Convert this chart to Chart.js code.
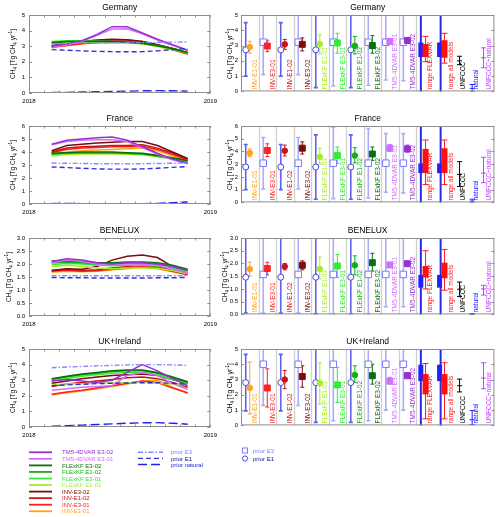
<!DOCTYPE html>
<html>
<head>
<meta charset="utf-8">
<script src="https://cdn.jsdelivr.net/npm/chart.js@4.4.1/dist/chart.umd.min.js"></script>
<style>
  body { margin: 0; background: #fff; }
  #page { position: relative; width: 500px; height: 517px; overflow: hidden; font-family: 'Liberation Sans', Arial, sans-serif; }
  canvas { position: absolute; }
  .ylab { position: absolute; width: 80px; height: 8px; line-height: 8px; font-size: 6.5px; text-align: center; transform: rotate(-90deg); white-space: nowrap; color: #000; }
  .ylab sub, .ylab sup { font-size: 4.5px; line-height: 0; }
  svg { position: absolute; left: 0; top: 0; }
</style>
</head>
<body>
<div id="page"></div>
<script>
// ---- data ----
const months = [1.5, 2.5, 3.5, 4.5, 5.5, 6.5, 7.5, 8.5, 9.5, 10.5];
const yearLabels = ['2018', '2019'];

const lineNames = ['TM5-4DVAR E3-02', 'TM5-4DVAR E3-01', 'FLExKF E3-02', 'FLExKF E1-02', 'FLExKF E3-01',
                   'FLExKF E1-01', 'INV-E3-02', 'INV-E1-02', 'INV-E3-01', 'INV-E1-01'];
const lineColors = ['#9830d0', '#d070ff', '#0a6e0a', '#12b012', '#30ee30',
                    '#a8ec28', '#7c0c0c', '#c81414', '#ff2020', '#ffa31a'];
const priorNames = ['prior E3', 'prior E1', 'prior natural'];
const priorColors = ['#8888ff', '#3030d8', '#2222ee'];

// monthly series, order as lineNames
const germanyMonthly = [
  [3.00, 3.15, 3.35, 3.75, 4.25, 4.25, 3.85, 3.45, 3.10, 2.75],
  [2.95, 3.10, 3.30, 3.70, 4.10, 4.12, 3.80, 3.40, 3.05, 2.72],
  [3.20, 3.30, 3.30, 3.30, 3.30, 3.25, 3.20, 3.05, 2.85, 2.60],
  [3.25, 3.30, 3.30, 3.30, 3.28, 3.25, 3.18, 3.02, 2.82, 2.58],
  [3.30, 3.35, 3.35, 3.32, 3.30, 3.25, 3.20, 3.05, 2.85, 2.62],
  [3.15, 3.25, 3.25, 3.25, 3.20, 3.20, 3.15, 3.00, 2.80, 2.55],
  [3.05, 3.20, 3.30, 3.40, 3.45, 3.42, 3.30, 3.10, 2.85, 2.55],
  [3.00, 3.15, 3.25, 3.35, 3.40, 3.40, 3.30, 3.10, 2.85, 2.55],
  [2.95, 3.05, 3.15, 3.25, 3.30, 3.30, 3.20, 3.05, 2.80, 2.50],
  [2.90, 3.05, 3.15, 3.20, 3.25, 3.25, 3.15, 3.00, 2.75, 2.48]
];
const germanyPriorMonthly = [
  [3.15, 3.18, 3.20, 3.20, 3.22, 3.22, 3.24, 3.25, 3.26, 3.27],
  [2.78, 2.74, 2.70, 2.67, 2.65, 2.64, 2.65, 2.70, 2.78, 2.86],
  [0.03, 0.04, 0.06, 0.08, 0.10, 0.12, 0.14, 0.15, 0.14, 0.12]
];
const franceMonthly = [
  [4.60, 4.90, 5.00, 5.10, 5.15, 4.90, 4.40, 3.90, 3.45, 3.15],
  [4.55, 4.80, 4.90, 4.95, 4.95, 4.80, 4.35, 3.85, 3.40, 3.10],
  [3.90, 3.95, 4.00, 4.00, 4.00, 3.95, 3.90, 3.75, 3.55, 3.35],
  [3.85, 3.95, 3.95, 3.95, 3.95, 3.90, 3.85, 3.70, 3.50, 3.30],
  [3.80, 3.90, 3.90, 3.90, 3.90, 3.88, 3.82, 3.68, 3.48, 3.30],
  [3.70, 3.80, 3.85, 3.85, 3.85, 3.82, 3.78, 3.65, 3.45, 3.25],
  [4.10, 4.50, 4.60, 4.70, 4.75, 4.80, 4.80, 4.50, 4.00, 3.50],
  [4.00, 4.30, 4.40, 4.45, 4.50, 4.50, 4.55, 4.30, 3.90, 3.45],
  [3.95, 4.20, 4.30, 4.35, 4.40, 4.40, 4.45, 4.20, 3.80, 3.40],
  [3.80, 4.00, 4.10, 4.15, 4.20, 4.25, 4.30, 4.10, 3.70, 3.35]
];
const francePriorMonthly = [
  [3.15, 3.13, 3.12, 3.10, 3.10, 3.10, 3.10, 3.12, 3.14, 3.16],
  [2.85, 2.80, 2.75, 2.70, 2.68, 2.68, 2.70, 2.75, 2.82, 2.88],
  [0.05, 0.04, 0.03, 0.02, 0.02, 0.02, 0.03, 0.05, 0.10, 0.15]
];
const beneluxMonthly = [
  [2.10, 2.20, 2.15, 2.05, 2.00, 2.05, 2.05, 2.00, 1.90, 1.75],
  [2.05, 2.15, 2.10, 2.00, 1.95, 2.00, 2.00, 1.95, 1.80, 1.65],
  [2.12, 2.12, 2.10, 2.05, 2.05, 2.08, 2.08, 2.05, 1.95, 1.80],
  [2.05, 2.08, 2.05, 2.00, 2.00, 2.02, 2.03, 2.00, 1.90, 1.75],
  [1.98, 2.02, 2.00, 1.95, 1.93, 1.95, 1.95, 1.92, 1.85, 1.70],
  [1.90, 1.95, 1.90, 1.85, 1.82, 1.85, 1.85, 1.83, 1.75, 1.62],
  [1.75, 1.82, 1.80, 1.90, 2.15, 2.30, 2.35, 2.25, 1.90, 1.65],
  [1.75, 1.80, 1.75, 1.78, 1.85, 1.90, 1.95, 1.90, 1.75, 1.60],
  [1.72, 1.76, 1.72, 1.74, 1.80, 1.85, 1.90, 1.85, 1.72, 1.60],
  [1.68, 1.72, 1.70, 1.72, 1.78, 1.82, 1.88, 1.82, 1.70, 1.58]
];
const beneluxPriorMonthly = [
  [1.55, 1.55, 1.55, 1.55, 1.55, 1.55, 1.55, 1.55, 1.55, 1.55],
  [1.48, 1.47, 1.47, 1.46, 1.46, 1.46, 1.46, 1.47, 1.47, 1.48],
  [0.01, 0.01, 0.01, 0.01, 0.01, 0.01, 0.01, 0.01, 0.01, 0.01]
];
const ukMonthly = [
  [2.95, 3.05, 2.95, 2.85, 3.00, 3.50, 4.00, 3.60, 3.10, 2.65],
  [2.35, 2.45, 2.55, 2.60, 2.65, 3.30, 3.50, 3.30, 2.80, 2.40],
  [3.10, 3.25, 3.40, 3.50, 3.60, 3.65, 3.65, 3.50, 3.20, 2.90],
  [3.05, 3.20, 3.35, 3.45, 3.55, 3.60, 3.60, 3.45, 3.15, 2.85],
  [2.95, 3.10, 3.25, 3.35, 3.45, 3.50, 3.50, 3.35, 3.05, 2.80],
  [2.70, 2.75, 2.78, 2.80, 2.82, 2.85, 2.85, 2.80, 2.75, 2.70],
  [2.80, 2.95, 3.10, 3.20, 3.30, 3.35, 3.40, 3.30, 3.05, 2.80],
  [2.60, 2.75, 2.85, 2.95, 3.05, 3.15, 3.20, 3.10, 2.85, 2.55],
  [2.10, 2.25, 2.35, 2.50, 2.65, 2.80, 2.95, 2.85, 2.50, 2.20],
  [2.05, 2.20, 2.30, 2.45, 2.60, 2.75, 2.95, 3.00, 2.55, 2.15]
];
const ukPriorMonthly = [
  [3.80, 3.85, 3.88, 3.92, 3.95, 3.98, 4.00, 4.00, 3.98, 3.95],
  [2.65, 2.70, 2.74, 2.78, 2.80, 2.82, 2.84, 2.84, 2.80, 2.75],
  [0.05, 0.08, 0.12, 0.16, 0.20, 0.24, 0.27, 0.28, 0.24, 0.18]
];

// annual means per model run (right panels)
const slotNames = ['INV-E1-01', 'INV-E3-01', 'INV-E1-02', 'INV-E3-02', 'FLExKF E1-01', 'FLExKF E3-01',
                   'FLExKF E1-02', 'FLExKF E3-02', 'TM5-4DVAR E3-01', 'TM5-4DVAR E3-02'];
const slotPriorType = ['E1', 'E3', 'E1', 'E3', 'E1', 'E3', 'E1', 'E3', 'E3', 'E3'];
const inventoryNames = ['UNFCCC', 'natural', 'UNFCCC+natural'];

const germanyPrior = [2.72, 3.22]; // E1, E3
const germanyPriorLo = [1.0, 1.1, 1.0, 1.1, 0.25, 0.35, 0.25, 0.4, 0.75, 0.7];
const germanyPriorHi = [4.5, 5.3, 4.5, 5.3, 5.3, 6.1, 5.3, 6.0, 5.7, 5.8];
const germanyPost = [2.90, 2.97, 3.08, 3.08, 3.10, 3.17, 2.98, 3.00, 3.27, 3.33];
const germanyPostLo = [2.50, 2.60, 2.75, 2.65, 2.45, 2.50, 2.45, 2.50, 3.15, 3.20];
const germanyPostHi = [3.28, 3.35, 3.40, 3.50, 3.70, 3.80, 3.60, 3.65, 3.45, 3.50];
const germanyRangePrior = [[2.25, 3.20], [2.25, 3.20]]; // FLEXVAR, all models
const germanyRangePost = [[2.25, 3.10], [2.20, 3.35]];
const germanyRangeWhisker = [[1.95, 3.60], [1.85, 3.80]];
const germanyInventory = [[1.75, 2.00, 2.30], [0.00, 0.20, 0.45], [1.55, 2.20, 2.85]];

const francePrior = [2.78, 3.08];
const francePriorLo = [1.0, 1.05, 1.0, 1.05, 0.25, 0.3, 0.25, 0.35, 0.8, 0.75];
const francePriorHi = [4.55, 5.1, 4.55, 5.1, 5.3, 5.9, 5.3, 5.8, 5.4, 5.4];
const francePost = [3.88, 4.08, 4.06, 4.26, 3.58, 3.68, 3.68, 3.80, 4.26, 4.20];
const francePostLo = [3.60, 3.60, 3.65, 3.80, 3.00, 3.05, 3.10, 3.30, 4.00, 3.95];
const francePostHi = [4.20, 4.60, 4.50, 4.75, 4.25, 4.35, 4.30, 4.35, 4.55, 4.50];
const franceRangePrior = [[2.30, 3.06], [2.30, 3.06]];
const franceRangePost = [[2.30, 4.20], [2.30, 4.25]];
const franceRangeWhisker = [[1.40, 4.90], [1.40, 4.90]];
const franceInventory = [[1.25, 2.20, 3.20], [0.00, 0.10, 0.25], [1.55, 2.30, 3.55]];

const beneluxPrior = [1.46, 1.57];
const beneluxPriorLo = [0.05, 0.05, 0.05, 0.05, 0.02, 0.02, 0.02, 0.02, 0.3, 0.3];
const beneluxPriorHi = [3.2, 3.2, 3.2, 3.2, 3.2, 3.2, 3.2, 3.2, 3.2, 3.2];
const beneluxPost = [1.78, 1.80, 1.88, 1.93, 1.78, 1.90, 1.93, 2.03, 1.94, 1.99];
const beneluxPostLo = [1.50, 1.55, 1.75, 1.75, 1.40, 1.45, 1.55, 1.70, 1.85, 1.90];
const beneluxPostHi = [2.05, 2.05, 2.00, 2.10, 2.25, 2.35, 2.30, 2.40, 2.05, 2.10];
const beneluxRangePrior = [[1.05, 1.55], [1.05, 1.55]];
const beneluxRangePost = [[1.45, 1.90], [1.42, 2.03]];
const beneluxRangeWhisker = [[1.00, 2.50], [0.95, 2.55]];
const beneluxInventory = [[0.70, 0.99, 1.27], [0.00, 0.01, 0.03], [0.76, 1.00, 1.14]];

const ukPrior = [2.80, 4.00];
const ukPriorLo = [0.95, 1.3, 0.95, 1.3, 0.2, 0.3, 0.2, 0.3, 1.0, 1.0];
const ukPriorHi = [4.65, 6.7, 4.65, 6.7, 5.4, 7.7, 5.4, 7.7, 7.0, 7.0];
const ukPost = [2.45, 2.45, 3.00, 3.20, 2.76, 2.65, 3.30, 3.25, 2.90, 3.25];
const ukPostLo = [0.75, 1.20, 2.40, 2.50, 1.40, 1.50, 2.80, 2.70, 2.70, 3.10];
const ukPostHi = [4.15, 3.70, 3.60, 3.90, 4.10, 3.80, 3.90, 4.00, 3.15, 3.45];
const ukRangePrior = [[2.90, 3.97], [2.90, 3.97]];
const ukRangePost = [[2.03, 3.36], [2.03, 3.36]];
const ukRangeWhisker = [[0.43, 4.05], [0.43, 4.10]];
const ukInventory = [[2.19, 2.60, 3.03], [0.05, 0.37, 0.97], [2.40, 3.10, 4.10]];

const regions = [
  { title: 'Germany', ymax: 5, step: 1, monthly: germanyMonthly, priorMonthly: germanyPriorMonthly,
    prior: germanyPrior, priorLo: germanyPriorLo, priorHi: germanyPriorHi, post: germanyPost,
    postLo: germanyPostLo, postHi: germanyPostHi, rangePrior: germanyRangePrior,
    rangePost: germanyRangePost, rangeWhisker: germanyRangeWhisker, inventory: germanyInventory },
  { title: 'France', ymax: 6, step: 1, monthly: franceMonthly, priorMonthly: francePriorMonthly,
    prior: francePrior, priorLo: francePriorLo, priorHi: francePriorHi, post: francePost,
    postLo: francePostLo, postHi: francePostHi, rangePrior: franceRangePrior,
    rangePost: franceRangePost, rangeWhisker: franceRangeWhisker, inventory: franceInventory },
  { title: 'BENELUX', ymax: 3, step: 0.5, monthly: beneluxMonthly, priorMonthly: beneluxPriorMonthly,
    prior: beneluxPrior, priorLo: beneluxPriorLo, priorHi: beneluxPriorHi, post: beneluxPost,
    postLo: beneluxPostLo, postHi: beneluxPostHi, rangePrior: beneluxRangePrior,
    rangePost: beneluxRangePost, rangeWhisker: beneluxRangeWhisker, inventory: beneluxInventory },
  { title: 'UK+Ireland', ymax: 5, step: 1, monthly: ukMonthly, priorMonthly: ukPriorMonthly,
    prior: ukPrior, priorLo: ukPriorLo, priorHi: ukPriorHi, post: ukPost,
    postLo: ukPostLo, postHi: ukPostHi, rangePrior: ukRangePrior,
    rangePost: ukRangePost, rangeWhisker: ukRangeWhisker, inventory: ukInventory }
];

// ---- layout ----
const FONT = '"Liberation Sans", Arial, sans-serif';
const plotTops = [15, 126, 238, 349];
const plotH = 78;
const page = document.getElementById('page');
const slotColors = slotNames.map(n => lineColors[lineNames.indexOf(n)]);

function makeCanvas(left, top, w, h) {
  const c = document.createElement('canvas');
  c.width = w; c.height = h;
  c.style.left = left + 'px'; c.style.top = top + 'px';
  c.style.width = w + 'px'; c.style.height = h + 'px';
  page.appendChild(c);
  return c;
}

function addYLabel(cx, cy) {
  const d = document.createElement('div');
  d.className = 'ylab';
  d.innerHTML = 'CH<sub>4</sub> [Tg CH<sub>4</sub> yr<sup>-1</sup>]';
  d.style.left = (cx - 40) + 'px';
  d.style.top = (cy - 4) + 'px';
  page.appendChild(d);
}

// frame, inward ticks and panel title
const framePlugin = {
  id: 'frame',
  afterDraw(chart, args, opts) {
    const { ctx, chartArea: a, scales } = chart;
    ctx.save();
    ctx.strokeStyle = '#8e8e8e';
    ctx.lineWidth = 1;
    ctx.strokeRect(a.left + 0.5, a.top + 0.5, a.right - a.left - 1, a.bottom - a.top - 1);
    ctx.beginPath();
    scales.y.ticks.forEach(t => {
      const py = Math.round(scales.y.getPixelForValue(t.value)) + 0.5;
      ctx.moveTo(a.left, py); ctx.lineTo(a.left + 3, py);
      ctx.moveTo(a.right, py); ctx.lineTo(a.right - 3, py);
    });
    if (opts.xTicks) {
      scales.x.ticks.forEach(t => {
        const px = Math.round(scales.x.getPixelForValue(t.value)) + 0.5;
        ctx.moveTo(px, a.bottom); ctx.lineTo(px, a.bottom - 2.5);
        ctx.moveTo(px, a.top); ctx.lineTo(px, a.top + 2.5);
      });
    }
    ctx.stroke();
    ctx.fillStyle = '#000';
    ctx.font = '8.5px ' + FONT;
    ctx.textAlign = 'center';
    ctx.textBaseline = 'middle';
    ctx.fillText(opts.title, (a.left + a.right) / 2, a.top - 7);
    ctx.restore();
  }
};

function vbar(ctx, px, p1, p2, cap) {
  ctx.beginPath();
  ctx.moveTo(px, p1); ctx.lineTo(px, p2);
  if (cap) {
    ctx.moveTo(px - cap, p1); ctx.lineTo(px + cap, p1);
    ctx.moveTo(px - cap, p2); ctx.lineTo(px + cap, p2);
  }
  ctx.stroke();
}

// error bars, range boxes and column labels of the right panels
const slotPlugin = {
  id: 'slots',
  beforeDatasetsDraw(chart, args, opts) {
    const r = regions[opts.ri];
    const { ctx, chartArea: a, scales: { x, y } } = chart;
    const X = v => x.getPixelForValue(v);
    const Y = v => y.getPixelForValue(v);
    ctx.save();
    ctx.beginPath();
    ctx.rect(a.left, a.top, a.right - a.left, a.bottom - a.top);
    ctx.clip();

    ctx.strokeStyle = '#d0d0d0';
    ctx.lineWidth = 1.3;
    for (let k = 1; k <= slotNames.length; k++) {
      const px = Math.round(X(k)) + 0.5;
      ctx.beginPath(); ctx.moveTo(px, a.top); ctx.lineTo(px, a.bottom); ctx.stroke();
    }

    // rotated labels
    ctx.font = '6.5px ' + FONT;
    ctx.textAlign = 'left';
    ctx.textBaseline = 'middle';
    const label = (text, xv, color) => {
      ctx.save();
      ctx.translate(X(xv), a.bottom - 2);
      ctx.rotate(-Math.PI / 2);
      ctx.fillStyle = color;
      ctx.fillText(text, 0, 0);
      ctx.restore();
    };
    slotNames.forEach((n, k) => label(n, k + 0.83, slotColors[k]));
    label('range FLEXVAR', 10.83, '#ff1a1a');
    label('range all models', 12.0, '#ff1a1a');
    label(inventoryNames[0], 12.69, '#000000');
    label(inventoryNames[1], 13.43, '#2020ff');
    label(inventoryNames[2], 14.19, '#c040ff');

    // prior uncertainty
    ctx.lineWidth = 1.6;
    slotNames.forEach((n, k) => {
      ctx.strokeStyle = slotPriorType[k] === 'E3' ? '#aaaaff' : '#6060f0';
      vbar(ctx, X(k + 0.27), Y(r.priorLo[k]), Y(r.priorHi[k]), 2);
    });
    // posterior uncertainty
    ctx.lineWidth = 1;
    slotNames.forEach((n, k) => {
      ctx.strokeStyle = slotColors[k];
      vbar(ctx, X(k + 0.5), Y(r.postLo[k]), Y(r.postHi[k]), 2);
    });

    // range columns
    const cols = [{ line: 10.27, box: 10.27, red: 10.54 }, { line: 11.4, box: 11.34, red: 11.62 }];
    cols.forEach((c, i) => {
      ctx.strokeStyle = '#2a2ae8';
      ctx.lineWidth = 2;
      vbar(ctx, X(c.line), a.bottom + 2, a.top - 2, 0);
      ctx.fillStyle = '#2020ff';
      ctx.fillRect(X(c.box) - 2.5, Y(r.rangePrior[i][1]), 5, Y(r.rangePrior[i][0]) - Y(r.rangePrior[i][1]));
      ctx.strokeStyle = '#ff1a1a';
      ctx.lineWidth = 1;
      vbar(ctx, X(c.red), Y(r.rangeWhisker[i][0]), Y(r.rangeWhisker[i][1]), 3);
      ctx.fillStyle = '#ff1010';
      ctx.fillRect(X(c.red) - 3, Y(r.rangePost[i][1]), 6, Y(r.rangePost[i][0]) - Y(r.rangePost[i][1]));
    });

    // inventories
    const inv = [{ xv: 12.48, color: '#000000' }, { xv: 13.2, color: '#2020ff' }, { xv: 13.85, color: '#c040ff' }];
    inv.forEach((c, i) => {
      const [lo, mid, hi] = r.inventory[i];
      ctx.strokeStyle = c.color;
      ctx.lineWidth = 1;
      vbar(ctx, X(c.xv), Y(lo), Y(hi), 2.5);
      ctx.beginPath();
      ctx.moveTo(X(c.xv) - 2.5, Y(mid)); ctx.lineTo(X(c.xv) + 2.5, Y(mid));
      ctx.stroke();
    });
    ctx.restore();
  }
};

function yTicks(r) {
  return {
    font: { size: 6, family: FONT }, color: '#000', padding: 3,
    stepSize: r.step,
    callback: v => (r.step < 1 ? v.toFixed(1) : String(v))
  };
}

regions.forEach((r, ri) => {
  const top = plotTops[ri];

  // ---- left: monthly time series ----
  const datasets = [];
  r.priorMonthly.forEach((vals, i) => {
    datasets.push({
      label: priorNames[i],
      data: months.map((m, j) => ({ x: m, y: vals[j] })),
      borderColor: priorColors[i], borderWidth: 1.4,
      borderDash: [[5, 2, 1.5, 2], [5, 3], [9, 4]][i],
      pointRadius: 0, order: i
    });
  });
  r.monthly.forEach((vals, i) => {
    datasets.push({
      label: lineNames[i],
      data: months.map((m, j) => ({ x: m, y: vals[j] })),
      borderColor: lineColors[i], borderWidth: 1.5,
      pointRadius: 0, order: 3 + i
    });
  });

  new Chart(makeCanvas(0, top - 12, 222, 104), {
    type: 'line',
    data: { datasets },
    options: {
      responsive: false, animation: false, events: [],
      layout: { padding: { top: 12, right: 11, bottom: 0, left: 0 } },
      scales: {
        x: {
          type: 'linear', min: 0, max: 12,
          grid: { display: false, drawTicks: false }, border: { display: false },
          ticks: {
            stepSize: 1, autoSkip: false, maxRotation: 0, padding: 5,
            font: { size: 6, family: FONT }, color: '#000',
            callback: v => (v === 0 ? yearLabels[0] : v === 12 ? yearLabels[1] : '')
          },
          afterFit: s => { s.height = 14; }
        },
        y: {
          min: 0, max: r.ymax,
          grid: { display: false, drawTicks: false }, border: { display: false },
          ticks: Object.assign(yTicks(r), { padding: 4 }),
          afterFit: s => { s.width = 29; }
        }
      },
      plugins: { legend: { display: false }, tooltip: { enabled: false }, frame: { title: r.title, xTicks: true } }
    },
    plugins: [framePlugin]
  });
  addYLabel(r.step < 1 ? 8.5 : 13, top + plotH / 2);

  // ---- right: annual totals per run ----
  const priorPts = slotNames.map((n, k) => ({ x: k + 0.27, y: r.prior[slotPriorType[k] === 'E1' ? 0 : 1] }));
  const postPts = slotNames.map((n, k) => ({ x: k + 0.5, y: r.post[k] }));
  new Chart(makeCanvas(228, top - 12, 272, 95), {
    type: 'scatter',
    data: {
      datasets: [
        {
          label: 'posterior', data: postPts,
          pointStyle: slotPriorType.map(t => (t === 'E1' ? 'circle' : 'rect')),
          pointRadius: slotPriorType.map(t => (t === 'E1' ? 2.8 : 4.2)),
          backgroundColor: slotColors, borderColor: slotColors, borderWidth: 1
        },
        {
          label: 'prior', data: priorPts,
          pointStyle: slotPriorType.map(t => (t === 'E1' ? 'circle' : 'rect')),
          pointRadius: slotPriorType.map(t => (t === 'E1' ? 3 : 4.6)),
          backgroundColor: '#ffffff',
          borderColor: slotPriorType.map(t => (t === 'E1' ? '#4848e8' : '#7a7aff')),
          borderWidth: 1
        }
      ]
    },
    options: {
      responsive: false, animation: false, events: [],
      layout: { padding: { top: 12, right: 5, bottom: 5, left: 0 } },
      scales: {
        x: { type: 'linear', min: 0, max: 14.47, display: false },
        y: {
          min: 0, max: r.ymax,
          grid: { display: false, drawTicks: false }, border: { display: false },
          ticks: yTicks(r),
          afterFit: s => { s.width = 13; }
        }
      },
      plugins: { legend: { display: false }, tooltip: { enabled: false },
                 frame: { title: r.title, xTicks: false }, slots: { ri } }
    },
    plugins: [slotPlugin, framePlugin]
  });
  addYLabel(r.step < 1 ? 225 : 230, top + plotH / 2);
});

// ---- legends ----
let svg = '<svg width="500" height="517" xmlns="http://www.w3.org/2000/svg" font-family=\'Liberation Sans, Arial, sans-serif\' font-size="6">';
lineNames.forEach((n, k) => {
  const yy = 452.3 + 6.55 * k;
  svg += `<line x1="29" y1="${yy}" x2="52" y2="${yy}" stroke="${lineColors[k]}" stroke-width="1.8"/>`;
  svg += `<text x="62" y="${yy + 2.1}" fill="${lineColors[k]}">${n}</text>`;
});
const priorDash = ['5 2 1.5 2', '5 3', '9 4'];
const priorLabelColors = ['#7f7fff', '#10108c', '#2020e0'];
priorNames.forEach((n, k) => {
  const yy = 452.3 + 6.1 * k;
  svg += `<line x1="138" y1="${yy}" x2="163" y2="${yy}" stroke="${priorColors[k]}" stroke-width="1.4" stroke-dasharray="${priorDash[k]}"/>`;
  svg += `<text x="171" y="${yy + 2.1}" fill="${priorLabelColors[k]}">${n}</text>`;
});
svg += '<rect x="242.5" y="448" width="5" height="5" fill="none" stroke="#7a7aff" stroke-width="1"/>';
svg += '<circle cx="245" cy="458.5" r="2.6" fill="none" stroke="#4848e8" stroke-width="1"/>';
svg += `<text x="253" y="452.6" fill="#7f7fff">${priorNames[0]}</text>`;
svg += `<text x="253" y="460.6" fill="#10108c">${priorNames[1]}</text>`;
svg += '</svg>';
page.insertAdjacentHTML('beforeend', svg);
</script>
</body>
</html>
